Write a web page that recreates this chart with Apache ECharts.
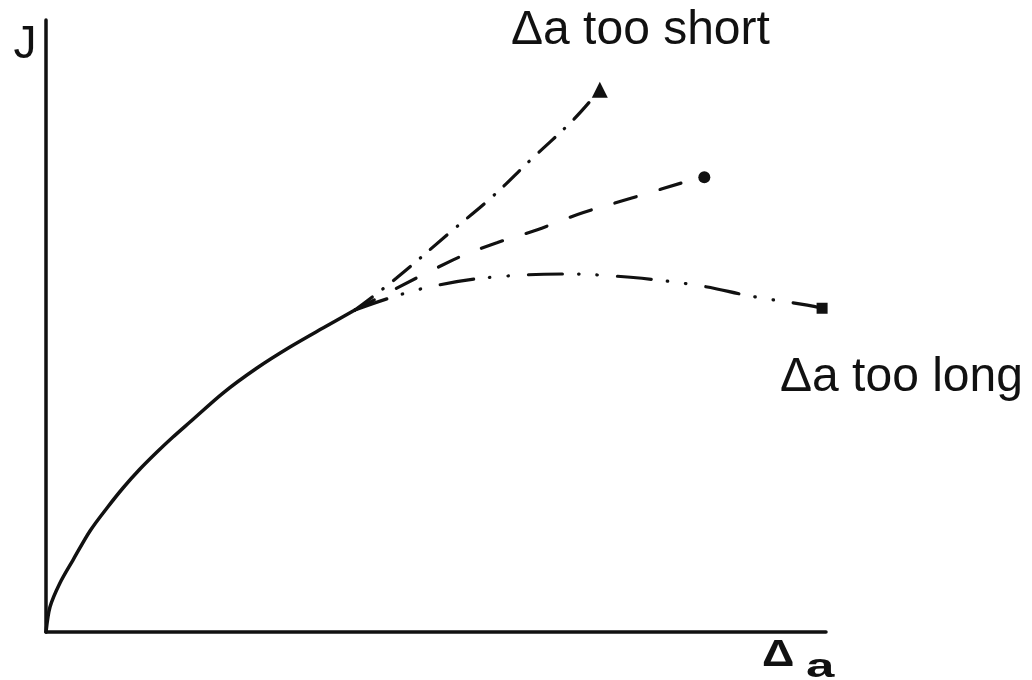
<!DOCTYPE html>
<html>
<head>
<meta charset="utf-8">
<script src="https://cdn.jsdelivr.net/npm/echarts@6/dist/echarts.min.js"></script>
<style>
  html, body { margin: 0; padding: 0; background: #ffffff; }
  #chart { width: 1032px; height: 680px; }
</style>
</head>
<body>
<div id="chart"></div>
<script>
// J–Δa resistance curve and the three ways it can continue

// Measured part of the curve (solid)
const solidX = [0, 0.51, 1.79, 3.46, 5.64, 7.82, 9.87, 12.05, 14.23, 16.28, 18.46, 22.69, 27.05, 31.28, 35.51, 39.6];
const solidY = [0, 4.08, 8.01, 11.76, 16.50, 20.26, 23.53, 26.63, 29.41, 31.86, 34.31, 39.05, 43.14, 46.57, 49.67, 52.6];

// Continuation when Δa is too short (dash-dot, ends in a triangle)
const shortX = [39.6, 44.9, 51.9, 57.2, 62.1, 67.6, 71.0];
const shortY = [52.6, 57.8, 65.4, 71.1, 77.1, 83.7, 88.6];

// Continuation with correct Δa (dashed, ends in a circle)
const rightX = [39.6, 52.2, 57.8, 62.9, 68.8, 75.1, 82.9, 84.4];
const rightY = [52.6, 60.8, 63.6, 65.7, 68.5, 70.9, 73.9, 74.3];

// Continuation when Δa is too long (dash-dot-dot, ends in a square)
const longX = [39.6, 49.2, 60.8, 67.2, 72.3, 76.4, 84.2, 90.3, 97.6, 99.5];
const longY = [52.6, 56.4, 58.3, 58.5, 58.2, 57.8, 56.5, 54.9, 53.4, 52.9];

const INK = '#111111';

function pairs(xs, ys, endSymbol, endSize) {
  return xs.map((x, i) => {
    const item = { value: [x, ys[i]] };
    if (endSymbol && i === xs.length - 1) {
      item.symbol = endSymbol;
      item.symbolSize = endSize;
    }
    return item;
  });
}

function branch(xs, ys, dash, endSymbol, endSize) {
  return {
    type: 'line',
    data: pairs(xs, ys, endSymbol, endSize),
    smooth: 0.4,
    symbol: 'none',
    showSymbol: true,
    itemStyle: { color: INK },
    lineStyle: { color: INK, width: 3.2, type: dash, cap: 'round' },
    silent: true,
    animation: false,
    z: 2
  };
}

const chart = echarts.init(document.getElementById('chart'), null, { renderer: 'canvas' });

chart.setOption({
  backgroundColor: '#ffffff',
  animation: false,
  grid: { left: 46, right: 206, top: 20, bottom: 48, containLabel: false },
  xAxis: {
    type: 'value', min: 0, max: 100,
    axisLine: { show: true, lineStyle: { color: INK, width: 3.5 } },
    axisTick: { show: false }, axisLabel: { show: false }, splitLine: { show: false }
  },
  yAxis: {
    type: 'value', min: 0, max: 100,
    axisLine: { show: true, lineStyle: { color: INK, width: 3.5 } },
    axisTick: { show: false }, axisLabel: { show: false }, splitLine: { show: false }
  },
  series: [
    branch(shortX, shortY, [22, 13, 0.5, 13], 'triangle', 16),
    branch(rightX, rightY, [22, 25], 'circle', 12),
    branch(longX, longY, [34, 16, 0.5, 18, 0.5, 20], 'rect', 11),
    {
      type: 'line',
      data: pairs(solidX, solidY),
      smooth: 0.3,
      symbol: 'none',
      lineStyle: { color: INK, width: 3.5, cap: 'round', join: 'round' },
      silent: true,
      animation: false,
      z: 3
    }
  ],
  graphic: [
    {
      type: 'text', x: 25, y: 45,
      style: { text: 'J', font: '46px "Liberation Sans"', fill: INK, align: 'center', verticalAlign: 'middle' }
    },
    {
      type: 'text', x: 762, y: 656, scaleX: 1.25,
      style: { text: 'Δ', font: 'bold 36px "Liberation Sans"', fill: INK, align: 'left', verticalAlign: 'middle' }
    },
    {
      type: 'text', x: 806, y: 668, scaleX: 1.5,
      style: { text: 'a', font: 'bold 34px "Liberation Sans"', fill: INK, align: 'left', verticalAlign: 'middle' }
    },
    {
      type: 'text', x: 511, y: 31,
      style: { text: 'Δa too short', font: '48px "Liberation Sans"', fill: INK, align: 'left', verticalAlign: 'middle' }
    },
    {
      type: 'text', x: 780, y: 378,
      style: { text: 'Δa too long', font: '48px "Liberation Sans"', fill: INK, align: 'left', verticalAlign: 'middle' }
    }
  ]
});
</script>
</body>
</html>
